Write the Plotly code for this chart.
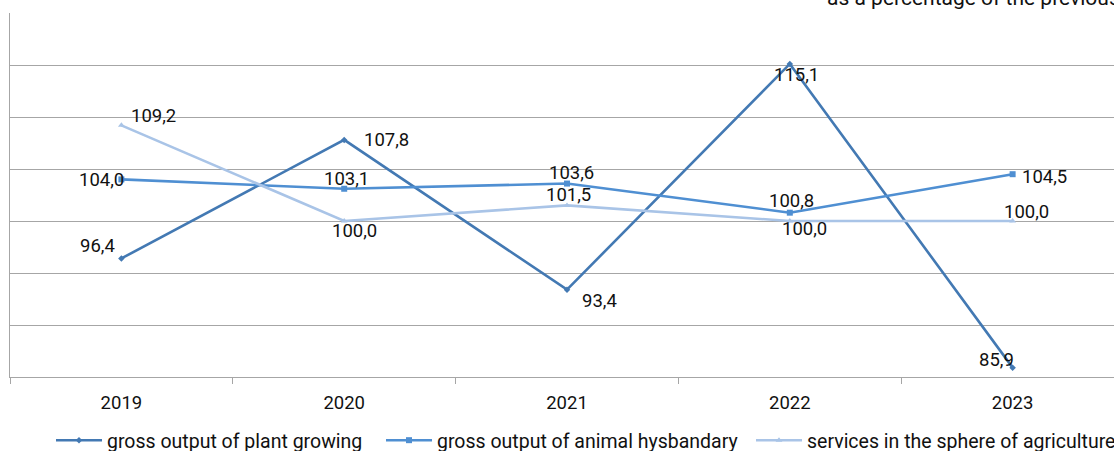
import plotly.graph_objects as go

years = ["2019", "2020", "2021", "2022", "2023"]
plant = [96.4, 107.8, 93.4, 115.1, 85.9]
animal = [104.0, 103.1, 103.6, 100.8, 104.5]
services = [109.2, 100.0, 101.5, 100.0, 100.0]
names = ["gross output of plant growing",
         "gross output of animal hysbandary",
         "services in the sphere of agriculture"]
subtitle = "as a percentage of the previous year"

colors = ["#4379B3", "#4F8FD2", "#A9C4E7"]
symbols = ["diamond", "square", "triangle-up"]
msizes = [5, 6, 6]
legend_ids = ["legend", "legend2", "legend3"]
legend_px = [51, 381, 751]

# label offsets (pixels) for data labels, per series
shifts = [
    [(-24, 12), (42, 0), (32, -11), (7, -11), (-16, 8)],
    [(-20, -1), (2, 10), (4, 11), (2, 12), (32, -3)],
    [(32, 9), (10, -10), (1, 10), (15, -8), (14, 9)],
]

series = [plant, animal, services]

fig = go.Figure()
for s, name, c, sym, ms, lg in zip(series, names, colors, symbols, msizes, legend_ids):
    fig.add_trace(go.Scatter(
        x=years, y=s, name=name, mode="lines+markers",
        line=dict(color=c, width=2.6),
        marker=dict(symbol=sym, size=ms, color=c),
        hoverinfo="skip", legend=lg,
    ))

annotations = []
for s, sh in zip(series, shifts):
    for i, (v, (dx, dy)) in enumerate(zip(s, sh)):
        annotations.append(dict(
            x=i, y=v, xref="x", yref="y",
            text=f"{v:.1f}".replace(".", ","),
            showarrow=False, xshift=dx, yshift=dy,
            font=dict(family="Roboto", size=18.5, color="#111111"),
        ))

annotations.append(dict(
    x=(825 - 10) / 1104, y=1, xref="paper", yref="paper",
    xanchor="left", yanchor="middle", yshift=15,
    text=subtitle, showarrow=False,
    font=dict(family="Roboto", size=21, color="#111111"),
))

legend_common = dict(orientation="h", xanchor="left", yanchor="middle",
                     xref="container", yref="container",
                     y=(451 - 440.5) / 451, font=dict(size=19.5),
                     itemwidth=46, bgcolor="rgba(0,0,0,0)")

fig.update_layout(
    width=1114, height=451,
    margin=dict(l=10, r=0, t=13, b=74, pad=0),
    paper_bgcolor="white", plot_bgcolor="white",
    font=dict(family="Roboto", size=18.5, color="#111111"),
    showlegend=True,
    legend=dict(x=legend_px[0] / 1114, **legend_common),
    legend2=dict(x=legend_px[1] / 1114, **legend_common),
    legend3=dict(x=legend_px[2] / 1114, **legend_common),
    annotations=annotations,
    xaxis=dict(
        type="category", range=[-0.5, 4.455],
        showgrid=False, showline=True, linecolor="#A6A6A6", linewidth=1,
        ticks="outside", tickson="boundaries", ticklen=6, tickcolor="#A6A6A6",
        tickfont=dict(size=18.5), ticklabelstandoff=9, fixedrange=True,
    ),
    yaxis=dict(
        range=[85, 120], dtick=5, showticklabels=False,
        showgrid=True, gridcolor="#A6A6A6", gridwidth=1,
        showline=True, linecolor="#A6A6A6", linewidth=1,
        zeroline=False, fixedrange=True,
    ),
)

fig.write_html("out.html", config={"displayModeBar": False},
               post_script="document.body.style.margin='0';document.body.style.overflow='hidden';")
